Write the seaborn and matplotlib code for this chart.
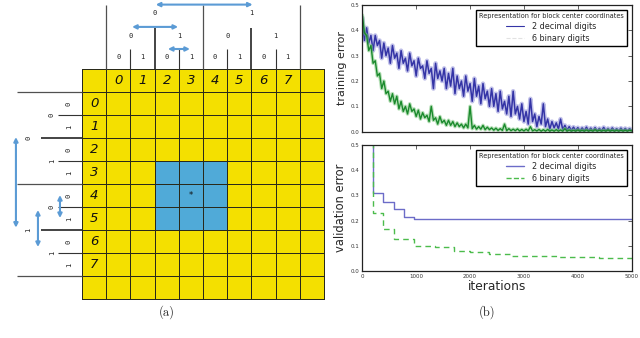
import numpy as np
import pandas as pd
import matplotlib
matplotlib.use('Agg')
import matplotlib.pyplot as plt
from matplotlib.colors import ListedColormap
from matplotlib.lines import Line2D
import seaborn as sns

# ---------------- data: grid panel (a) ----------------
col_labels = ['0', '1', '2', '3', '4', '5', '6', '7']
row_labels = ['0', '1', '2', '3', '4', '5', '6', '7']
block_rows = [3, 4, 5]
block_cols = [2, 3, 4]
block_center = (4, 3)          # (row, col)
tree_bits = [['0', '1'],
             ['0', '1', '0', '1'],
             ['0', '1', '0', '1', '0', '1', '0', '1']]
caption_a = '(a)'
caption_b = '(b)'

# ---------------- data: panel (b) ----------------
train_step = 40
train_decimal = [0.45, 0.36, 0.41, 0.35, 0.38, 0.32, 0.38, 0.34, 0.36, 0.29,
                 0.35, 0.30, 0.33, 0.27, 0.34, 0.29, 0.31, 0.25, 0.32, 0.27,
                 0.29, 0.24, 0.31, 0.26, 0.28, 0.22, 0.29, 0.25, 0.26, 0.21,
                 0.28, 0.23, 0.25, 0.17, 0.27, 0.21, 0.24, 0.20, 0.25, 0.17,
                 0.23, 0.18, 0.25, 0.15, 0.22, 0.17, 0.20, 0.14, 0.22, 0.16,
                 0.19, 0.12, 0.21, 0.14, 0.18, 0.11, 0.19, 0.13, 0.16, 0.10,
                 0.17, 0.10, 0.15, 0.08, 0.16, 0.09, 0.12, 0.07, 0.14, 0.06,
                 0.16, 0.07, 0.10, 0.05, 0.11, 0.04, 0.08, 0.03, 0.13, 0.04,
                 0.07, 0.02, 0.06, 0.03, 0.11, 0.02, 0.05, 0.01, 0.04, 0.015,
                 0.035, 0.01, 0.05, 0.008, 0.025, 0.006, 0.02, 0.005, 0.018, 0.005,
                 0.016, 0.004, 0.015, 0.004, 0.018, 0.004, 0.014, 0.004, 0.016, 0.004,
                 0.013, 0.004, 0.017, 0.004, 0.013, 0.004, 0.015, 0.004, 0.012, 0.004,
                 0.014, 0.004, 0.013, 0.004, 0.012, 0.005]
train_binary = [0.46, 0.39, 0.38, 0.32, 0.34, 0.27, 0.28, 0.22, 0.23, 0.17,
                0.20, 0.15, 0.16, 0.12, 0.15, 0.11, 0.14, 0.09, 0.12, 0.08,
                0.10, 0.07, 0.11, 0.08, 0.09, 0.06, 0.085, 0.05, 0.075, 0.055,
                0.065, 0.04, 0.10, 0.045, 0.055, 0.03, 0.06, 0.035, 0.045, 0.025,
                0.045, 0.025, 0.04, 0.02, 0.035, 0.02, 0.03, 0.015, 0.03, 0.015,
                0.10, 0.012, 0.025, 0.01, 0.02, 0.01, 0.025, 0.008, 0.018, 0.008,
                0.015, 0.006, 0.014, 0.005, 0.012, 0.005, 0.03, 0.004, 0.012, 0.004,
                0.01, 0.004, 0.011, 0.003, 0.009, 0.003, 0.01, 0.003, 0.02, 0.003,
                0.008, 0.003, 0.009, 0.002, 0.008, 0.002, 0.009, 0.002, 0.007, 0.002,
                0.008, 0.002, 0.007, 0.002, 0.012, 0.002, 0.007, 0.002, 0.006, 0.002,
                0.007, 0.002, 0.006, 0.002, 0.007, 0.002, 0.006, 0.002, 0.008, 0.002,
                0.006, 0.002, 0.006, 0.002, 0.007, 0.002, 0.006, 0.002, 0.006, 0.002,
                0.006, 0.002, 0.006, 0.002, 0.006, 0.003]

val_iters_decimal = [0, 200, 390, 580, 770, 960, 5000]
val_decimal = [0.70, 0.308, 0.275, 0.245, 0.215, 0.207, 0.207]
val_iters_binary = [0, 200, 390, 580, 960, 1350, 1700, 2000, 2350, 2750, 3650, 4400, 5000]
val_binary = [0.70, 0.23, 0.165, 0.128, 0.100, 0.095, 0.080, 0.075, 0.066, 0.060, 0.057, 0.053, 0.053]

series_names = ['2 decimal digits', '6 binary digits']
legend_title = 'Representation for block center coordinates'

# ---------------- style ----------------
sns.set_theme(style='white')
plt.rcParams['font.family'] = ['DejaVu Sans']

YELLOW = '#f4e000'
CELLBLUE = '#50aad8'
ARROW = '#5b9bd5'
DBLUE = '#3434a6'
LBLUE = '#8f8fd8'
DGREEN = '#1a8a2c'
LGREEN = '#7cc67e'

fig = plt.figure(figsize=(6.4, 3.38), dpi=100)

# ---------------- panel (a): grid as heatmap ----------------
n = len(col_labels) + 2
grid = np.zeros((n, n))
for r in block_rows:
    for c in block_cols:
        grid[r + 1, c + 1] = 1
annot = np.full((n, n), '', dtype=object)
for i, lab in enumerate(col_labels):
    annot[0, i + 1] = lab
for i, lab in enumerate(row_labels):
    annot[i + 1, 0] = lab
annot[block_center[0] + 1, block_center[1] + 1] = '*'

axg = fig.add_axes([82 / 640, 1 - 299 / 338, 242 / 640, 230 / 338])
sns.heatmap(grid, cmap=ListedColormap([YELLOW, CELLBLUE]), vmin=0, vmax=1,
            cbar=False, linewidths=0.55, linecolor='#2a2a1a',
            annot=annot, fmt='', annot_kws=dict(fontsize=9.5, style='italic', color='#111111'),
            xticklabels=False, yticklabels=False, ax=axg)
axg.collections[0].set_clip_on(False)
for t in axg.texts:
    if t.get_text() == '*':
        t.set_fontsize(6)
        t.set_fontstyle('normal')
        t.set_va('center')

# tree structure (in cell units)
top_len = [2.78, 1.78, 0.87]
left_len = [2.69, 1.69, 0.99]
line_cols = ['#505050', '#111111', '#333333']
line_w = [0.9, 1.1, 0.8]
bit_kw = dict(fontsize=5, family='DejaVu Sans Mono', color='#222222', ha='center', va='center')
for lvl, bits in enumerate(tree_bits):
    nseg = len(bits)
    width = 8 / nseg
    bounds = [1 + k * width for k in range(nseg + 1)]
    if lvl > 0:
        bounds = bounds[1:-1:2]
    for b in bounds:
        axg.plot([b, b], [-top_len[lvl], 0], color=line_cols[lvl], lw=line_w[lvl], clip_on=False,
                 solid_capstyle='butt')
        axg.plot([-left_len[lvl], 0], [b, b], color=line_cols[lvl], lw=line_w[lvl], clip_on=False,
                 solid_capstyle='butt')
    for k, b in enumerate(bits):
        cpos = 1 + (k + 0.5) * width
        axg.text(cpos, [-2.43, -1.43, -0.52][lvl], b, clip_on=False, **bit_kw)
        axg.text([-2.23, -1.24, -0.54][lvl], cpos, b, rotation=90, clip_on=False, **bit_kw)

arrow_kw = dict(arrowstyle='<|-|>', color=ARROW, lw=1.5, mutation_scale=6, shrinkA=0, shrinkB=0)
top_arrows = [((3.05, -2.80), (7.05, -2.80)),
              ((2.07, -1.83), (3.97, -1.83)),
              ((3.55, -0.87), (4.46, -0.87))]
left_arrows = [((-2.73, 2.96), (-2.73, 6.90)),
               ((-1.82, 6.13), (-1.82, 7.74)),
               ((-0.91, 5.48), (-0.91, 6.48))]
for a, b in top_arrows + left_arrows:
    axg.annotate('', xy=b, xytext=a, arrowprops=arrow_kw, annotation_clip=False)

fig.text(167 / 640, 1 - 312 / 338, caption_a, ha='center', va='center', fontsize=9,
         family=['cmr10', 'DejaVu Serif'])
fig.text(487 / 640, 1 - 312 / 338, caption_b, ha='center', va='center', fontsize=9,
         family=['cmr10', 'DejaVu Serif'])

# ---------------- panel (b): training / validation ----------------
iters = np.arange(len(train_decimal)) * train_step
df_train = pd.DataFrame({'iteration': np.concatenate([iters, iters]),
                         'error': train_decimal + train_binary,
                         'rep': [series_names[0]] * len(iters) + [series_names[1]] * len(iters)})

ax1 = fig.add_axes([362.3 / 640, 1 - 131.7 / 338, 269.4 / 640, 126.7 / 338])
ax2 = fig.add_axes([362.3 / 640, 1 - 271 / 338, 269.4 / 640, 126 / 338])

d_dec = df_train[df_train.rep == series_names[0]]
d_bin = df_train[df_train.rep == series_names[1]]
sns.lineplot(data=d_dec, x='iteration', y='error', color=LBLUE, lw=3.2, alpha=0.55, estimator=None, ax=ax1)
sns.lineplot(data=d_dec, x='iteration', y='error', color=DBLUE, lw=1.1, estimator=None, ax=ax1)
sns.lineplot(data=d_bin, x='iteration', y='error', color=LGREEN, lw=2.6, alpha=0.55, estimator=None, ax=ax1)
sns.lineplot(data=d_bin, x='iteration', y='error', color=DGREEN, lw=1.0, estimator=None, ax=ax1)

df_vd = pd.DataFrame({'iteration': val_iters_decimal, 'error': val_decimal})
df_vb = pd.DataFrame({'iteration': val_iters_binary, 'error': val_binary})
sns.lineplot(data=df_vd, x='iteration', y='error', color='#6c6cc8', lw=1.0,
             drawstyle='steps-post', estimator=None, ax=ax2)
sns.lineplot(data=df_vb, x='iteration', y='error', color='#4cbc4c', lw=1.0,
             drawstyle='steps-post', estimator=None, ax=ax2, dashes=False, linestyle=(0, (4, 3)))

for ax in (ax1, ax2):
    ax.set_xlim(0, 5000)
    ax.set_ylim(0, 0.5)
    ax.set_xticks(range(0, 5001, 1000))
    ax.set_yticks([0.0, 0.1, 0.2, 0.3, 0.4, 0.5])
    ax.set_yticklabels(['0.0', '0.1', '0.2', '0.3', '0.4', '0.5'])
    ax.tick_params(direction='in', top=True, right=True, length=3, width=0.5,
                   labelsize=4, pad=2, colors='#222222', labelcolor='#333333')
    for s in ax.spines.values():
        s.set_color('#222222')
        s.set_linewidth(0.9)
ax1.set_xticklabels([])
ax1.set_xlabel('')
ax1.set_ylabel('training error', fontsize=8, labelpad=3)
ax2.set_ylabel('validation error', fontsize=8.3, labelpad=3)
ax2.set_xlabel('iterations', fontsize=8.8, labelpad=1)

leg_kw = dict(title=legend_title, loc='upper right', fontsize=5.8, title_fontsize=4.7,
              frameon=True, fancybox=False, edgecolor='black', framealpha=1,
              borderaxespad=0.6, handlelength=2.2, labelspacing=0.35, borderpad=0.4,
              handletextpad=1.0)
h1 = [Line2D([], [], color=DBLUE, lw=0.8), Line2D([], [], color='#e2e2e2', lw=0.8, ls='--')]
l1 = ax1.legend(h1, series_names, **leg_kw)
h2 = [Line2D([], [], color='#6c6cc8', lw=1.0), Line2D([], [], color='#4cbc4c', lw=1.0, ls='--')]
l2 = ax2.legend(h2, series_names, **leg_kw)
for lg in (l1, l2):
    lg.get_frame().set_linewidth(1.0)

fig.savefig('out.png', dpi=100)
